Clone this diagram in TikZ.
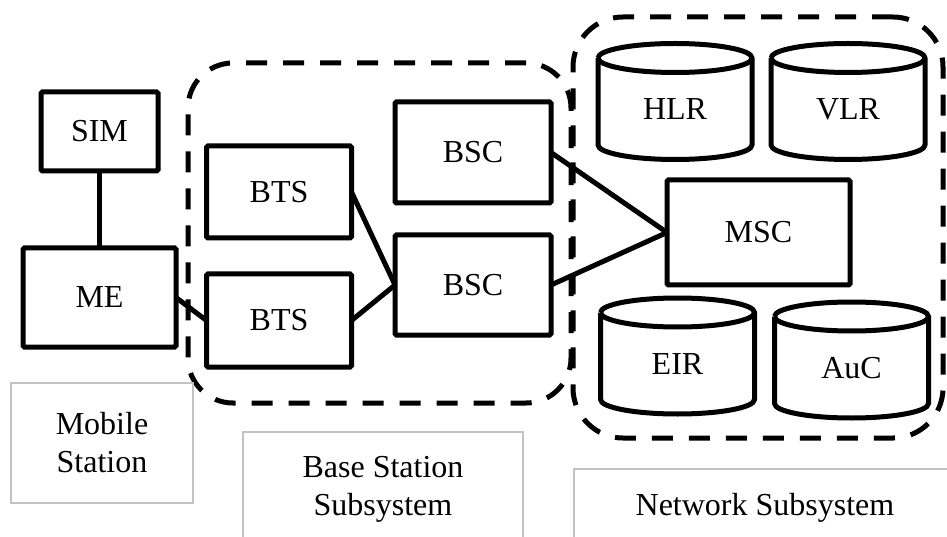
\documentclass[tikz,border=0pt]{standalone}
\usepackage{fontspec}
\setmainfont{Liberation Serif}
\usepackage{tikz}
\usetikzlibrary{positioning,calc}
\definecolor{lightgrey}{HTML}{C2C2C2}
\tikzset{
  box/.style={
    draw=black,fill=white,line width=5pt,rounded corners=1.5pt,
    inner sep=0pt,outer sep=0pt,align=center,
    font=\fontsize{32}{38}\selectfont
  },
  dbbox/.style={
    minimum width=154pt,minimum height=116pt,inner sep=0pt,outer sep=0pt,
    text height=36pt,text depth=0pt,
    font=\fontsize{32}{38}\selectfont
  },
  dbline/.style={draw=black,line width=5pt,line join=round},
  group/.style={
    draw=black,line width=5pt,dash pattern=on 21pt off 16pt,
    inner sep=0pt,outer sep=0pt
  },
  labelbox/.style={
    draw=lightgrey,line width=1.5pt,inner sep=0pt,align=center,
    font=\fontsize{32}{38}\selectfont
  },
  link/.style={draw=black,line width=5pt}
}
\begin{document}
\begin{tikzpicture}[x=1pt,y=1pt]
\useasboundingbox (0,0) rectangle (947,536);

\node[group,rounded corners=45pt,minimum width=383pt,minimum height=340pt]
  (bss) at (379.5,303) {};
\node[group,rounded corners=50pt,minimum width=370pt,minimum height=421pt]
  (nss) at (758,308.5) {};

\node[box,minimum width=117pt,minimum height=79pt] (sim) at (99.5,404.5) {SIM};
\node[box,minimum width=153pt,minimum height=99pt,below=77pt of sim] (me) {ME};

\node[box,minimum width=145pt,minimum height=92pt] (bts1) at (279,344) {BTS};
\node[box,minimum width=145pt,minimum height=93pt,below=36pt of bts1] (bts2) {BTS};
\node[box,minimum width=156pt,minimum height=101pt] (bsc1) at (473,383.5) {BSC};
\node[box,minimum width=156pt,minimum height=100pt,below=32pt of bsc1] (bsc2) {BSC};

\node[box,minimum width=183pt,minimum height=105pt] (msc) at (758.5,303.5) {MSC};
\node[dbbox] (hlr) at (675,434.5) {HLR};
\node[dbbox,right=19pt of hlr] (vlr) {VLR};
\node[dbbox] (eir) at (677.5,180) {EIR};
\node[dbbox] (auc) at (851.5,176) {AuC};
\foreach \db in {hlr,vlr,eir,auc}{
  \draw[dbline] ($(\db.north west)+(0,-14.5)$) -- ($(\db.south west)+(0,14.5)$)
    arc[start angle=180,end angle=360,x radius=77pt,y radius=14.5pt]
    -- ($(\db.north east)+(0,-14.5)$)
    arc[start angle=0,end angle=180,x radius=77pt,y radius=14.5pt];
  \draw[dbline] ($(\db.north west)+(0,-14.5)$)
    arc[start angle=180,end angle=360,x radius=77pt,y radius=14.5pt];
}

\node[labelbox,minimum width=182pt,minimum height=120pt] (mslabel) at (102,93)
  {Mobile\\Station};
\node[labelbox,minimum width=280pt,minimum height=114pt] (bsslabel) at (383,47)
  {Base Station\\Subsystem};
\node[labelbox,minimum width=382pt,minimum height=78pt] (nsslabel) at (765,28)
  {Network Subsystem};

\draw[link] (sim.south) -- (me.north);
\draw[link] (me.east) -- (bts2.west);
\draw[link] (bts1.east) -- (bsc2.west);
\draw[link] (bts2.east) -- (bsc2.west);
\draw[link] (bsc1.east) -- (msc.west);
\draw[link] (bsc2.east) -- (msc.west);
\end{tikzpicture}
\end{document}
